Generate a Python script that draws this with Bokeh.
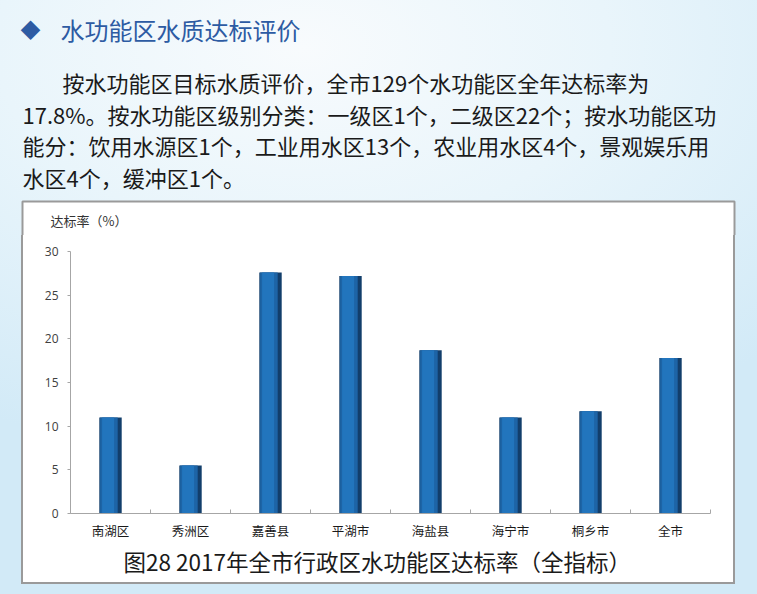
from bokeh.plotting import figure
from bokeh.models import Label, FixedTicker, LinearAxis, Range1d, Title, Spacer
from bokeh.layouts import column, row
from bokeh.embed import file_html
from bokeh.resources import INLINE

# ---------------- data ----------------
heading = "水功能区水质达标评价"
para_lines = [
    "按水功能区目标水质评价，全市129个水功能区全年达标率为",
    "17.8%。按水功能区级别分类：一级区1个，二级区22个；按水功能区功",
    "能分：饮用水源区1个，工业用水区13个，农业用水区4个，景观娱乐用",
    "水区4个，缓冲区1个。",
]
categories = ["南湖区", "秀洲区", "嘉善县", "平湖市", "海盐县", "海宁市", "桐乡市", "全市"]
rates = [11.0, 5.5, 27.6, 27.2, 18.7, 11.0, 11.7, 17.8]
y_ticks = [0, 5, 10, 15, 20, 25, 30]
y_label = "达标率（%）"
caption = "图28 2017年全市行政区水功能区达标率（全指标）"

# ---------------- page geometry (pixels) ----------------
W, H = 757, 594
HEADER_H = 235                      # header figure also holds the top of the chart box
BOX_L, BOX_R, BOX_T, BOX_B = 21, 735, 200, 584   # outer edge of grey box border
BW = 2                              # border width
FL, FR, FT, FB = 70, 710, 251, 513  # plot frame in page pixels
CJK = "Noto Sans CJK SC"
GREY = "#9a9a9a"
n = len(categories)
centers = [i + 0.5 for i in range(n)]
bounds = list(range(n + 1))

# ---------------- header (heading, paragraph, top of chart box) ----------------
hdr = figure(width=W, height=HEADER_H, output_backend="svg", toolbar_location=None,
             x_range=Range1d(0, W), y_range=Range1d(HEADER_H, 0),
             x_axis_type=None, y_axis_type=None, min_border=0)
hdr.grid.visible = False
hdr.outline_line_color = None
hdr.border_fill_alpha = 0
hdr.background_fill_alpha = 0

hdr.quad(left=[BOX_L + BW / 2], right=[BOX_R - BW / 2], top=[BOX_T + BW / 2],
         bottom=[HEADER_H + 10], fill_color="white", line_color=GREY, line_width=BW)

def add_text(x, y, text, size, color, align="left"):
    hdr.add_layout(Label(x=x, y=y, text=text, text_font=CJK, text_font_size=size,
                         text_color=color, text_align=align, text_baseline="middle"))

add_text(30, 29, "◆", "20px", "#2d5ba3", align="center")
add_text(60, 29, heading, "24px", "#2d5ba3")
line_y = [81, 113, 144, 176]
line_x = [62, 22, 22, 22]
for x, y, t in zip(line_x, line_y, para_lines):
    add_text(x, y, t, "22px", "#1a1a1a")
add_text(50, 220, y_label, "13px", "#333333")

# ---------------- chart ----------------
cw, ch = BOX_R - BOX_L, BOX_B - HEADER_H
p = figure(width=cw, height=ch, output_backend="svg", toolbar_location=None,
           x_range=Range1d(0, n), y_range=Range1d(0, 30),
           x_axis_type=None, y_axis_type=None,
           min_border_left=FL - BOX_L, min_border_right=BOX_R - FR,
           min_border_top=FT - HEADER_H, min_border_bottom=BOX_B - FB)
p.grid.visible = False
p.outline_line_color = None
p.border_fill_alpha = 0
p.background_fill_color = "white"
p.styles = {"background": "white",
            "box-shadow": f"inset {BW}px 0 0 {GREY}, inset -{BW}px 0 0 {GREY}, inset 0 -{BW}px 0 {GREY}"}

yaxis = LinearAxis(ticker=FixedTicker(ticks=y_ticks))
yaxis.axis_line_color = "#a6a6a6"
yaxis.major_tick_line_color = "#a6a6a6"
yaxis.major_tick_out = 3
yaxis.major_tick_in = 0
yaxis.minor_tick_line_color = None
yaxis.major_label_standoff = 9
yaxis.major_label_text_font = "Open Sans"
yaxis.major_label_text_font_size = "12px"
yaxis.major_label_text_color = "#404040"
p.add_layout(yaxis, "left")

xaxis = LinearAxis(ticker=FixedTicker(ticks=centers, minor_ticks=bounds))
xaxis.axis_line_color = "#a6a6a6"
xaxis.major_tick_line_color = None
xaxis.minor_tick_line_color = "#a6a6a6"
xaxis.minor_tick_in = 4
xaxis.minor_tick_out = 0
xaxis.major_label_overrides = {c: name for c, name in zip(centers, categories)}
xaxis.major_label_standoff = 1
xaxis.major_label_text_font = CJK
xaxis.major_label_text_font_size = "12.5px"
xaxis.major_label_text_color = "#1a1a1a"
p.add_layout(xaxis, "below")

p.add_layout(Title(text=caption, align="left", offset=53, standoff=0,
                   text_font=CJK, text_font_size="22.5px", text_font_style="normal",
                   text_color="#1a1a1a"), "below")

# bars (cylinder-like shading)
p.vbar(x=centers, top=rates, width=0.28, fill_color="#123e6b", line_color=None)
p.vbar(x=[c - 0.02 for c in centers], top=rates, width=0.22, fill_color="#1d64a6", line_color=None)
p.vbar(x=[c - 0.03 for c in centers], top=rates, width=0.15, fill_color="#2275bd", line_color=None)

layout = column(
    hdr,
    row(Spacer(width=BOX_L, height=ch), p, Spacer(width=W - BOX_R, height=ch)),
    Spacer(width=W, height=H - BOX_B),
)
layout.styles = {"background": "radial-gradient(ellipse 90% 70% at 40% 8%, #f8fbfd 0%, #e9f5fb 45%, #d2eaf7 100%)"}

open("out.html", "w").write(file_html(layout, INLINE))
